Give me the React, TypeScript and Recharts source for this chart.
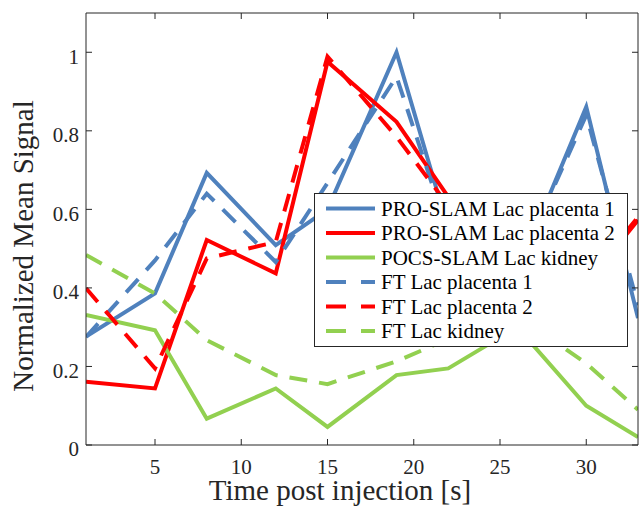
import { LineChart, Line, XAxis, YAxis, Legend } from 'recharts';

// time points (s) and normalized signals
const time = [1, 5, 8, 12, 15, 19, 22, 26, 30, 33];
const proPlacenta1 = [0.276, 0.386, 0.693, 0.509, 0.6, 1.0, 0.55, 0.44, 0.861, 0.323];
const proPlacenta2 = [0.161, 0.144, 0.522, 0.437, 0.976, 0.823, 0.632, 0.5, 0.41, 0.573];
const pocsKidney = [0.331, 0.292, 0.067, 0.144, 0.046, 0.178, 0.195, 0.3, 0.1, 0.02];
const ftPlacenta1 = [0.275, 0.47, 0.64, 0.466, 0.667, 0.938, 0.54, 0.45, 0.84, 0.356];
const ftPlacenta2 = [0.399, 0.195, 0.475, 0.517, 0.989, 0.785, 0.61, 0.5, 0.42, 0.58];
const ftKidney = [0.484, 0.386, 0.267, 0.178, 0.155, 0.213, 0.27, 0.33, 0.208, 0.09];

const xTicks = [5, 10, 15, 20, 25, 30];
const yTicks = [0, 0.2, 0.4, 0.6, 0.8, 1];

const BLUE = '#4F81BD';
const RED = '#FF0000';
const GREEN = '#92D050';
const AXIS = '#262626';
const FONT = '"Liberation Serif", "Times New Roman", serif';

const series = [
  { key: 'proP1', name: 'PRO-SLAM Lac placenta 1', color: BLUE, dashed: false, values: proPlacenta1 },
  { key: 'proP2', name: 'PRO-SLAM Lac placenta 2', color: RED, dashed: false, values: proPlacenta2 },
  { key: 'pocsK', name: 'POCS-SLAM Lac kidney', color: GREEN, dashed: false, values: pocsKidney },
  { key: 'ftP1', name: 'FT Lac placenta 1', color: BLUE, dashed: true, values: ftPlacenta1 },
  { key: 'ftP2', name: 'FT Lac placenta 2', color: RED, dashed: true, values: ftPlacenta2 },
  { key: 'ftK', name: 'FT Lac kidney', color: GREEN, dashed: true, values: ftKidney },
];

const data = time.map((t, i) => {
  const row: Record<string, number> = { t };
  series.forEach((s) => { row[s.key] = s.values[i]; });
  return row;
});

const DASH = '18 12';

function LegendBox() {
  return (
    <div style={{ width: 312, height: 152, border: `1px solid ${AXIS}`, background: '#fff' }}>
      <svg width={312} height={152}>
        {series.map((s, i) => {
          const cy = 14.5 + i * 24.5;
          return (
            <g key={s.key}>
              <line x1={11} x2={60} y1={cy} y2={cy} stroke={s.color} strokeWidth={4}
                strokeDasharray={s.dashed ? '20 15' : undefined} />
              <text x={66} y={cy + 7} fontFamily={FONT} fontSize={21} fill="#000">{s.name}</text>
            </g>
          );
        })}
      </svg>
    </div>
  );
}

export default function App() {
  const tickStyle = { fontFamily: FONT, fontSize: 21, fill: AXIS };
  return (
    <div style={{ position: 'absolute', left: 0, top: 0, width: 643, height: 509, background: '#fff' }}>
      <LineChart width={643} height={509} data={data} margin={{ top: 12, right: 4, bottom: 0, left: 0 }}>
        <XAxis dataKey="t" type="number" domain={[1, 33]} ticks={xTicks} allowDataOverflow
          height={64} tickSize={-6} tickMargin={20} stroke={AXIS} tick={tickStyle}
          label={({ viewBox }: any) => (
            <text x={340} y={500} textAnchor="middle" fontFamily={FONT} fontSize={29} fill={AXIS}>
              Time post injection [s]
            </text>
          )} />
        <XAxis xAxisId="top" dataKey="t" type="number" orientation="top" domain={[1, 33]} ticks={xTicks}
          allowDataOverflow height={1} tickSize={-6} stroke={AXIS} tickFormatter={() => ''} />
        <YAxis type="number" domain={[0, 1.1]} ticks={yTicks} allowDataOverflow width={86}
          tickSize={-6} tickMargin={13} stroke={AXIS} tick={{ ...tickStyle, dy: 4 }}
          label={() => (
            <text x={33} y={246} transform="rotate(-90, 33, 246)" textAnchor="middle"
              fontFamily={FONT} fontSize={29} fill={AXIS}>
              Normalized Mean Signal
            </text>
          )} />
        <YAxis yAxisId="right" orientation="right" type="number" domain={[0, 1.1]} ticks={yTicks}
          allowDataOverflow width={1} tickSize={-6} stroke={AXIS} tickFormatter={() => ''} />
        {series.map((s) => (
          <Line key={s.key} dataKey={s.key} name={s.name} stroke={s.color} strokeWidth={4}
            strokeDasharray={s.dashed ? DASH : undefined} dot={false} activeDot={false}
            type="linear" isAnimationActive={false} />
        ))}
        <Legend layout="vertical" align="center" verticalAlign="middle" content={() => <LegendBox />}
          wrapperStyle={{ left: 314, top: 193, width: 314, height: 154 }} />
      </LineChart>
    </div>
  );
}
